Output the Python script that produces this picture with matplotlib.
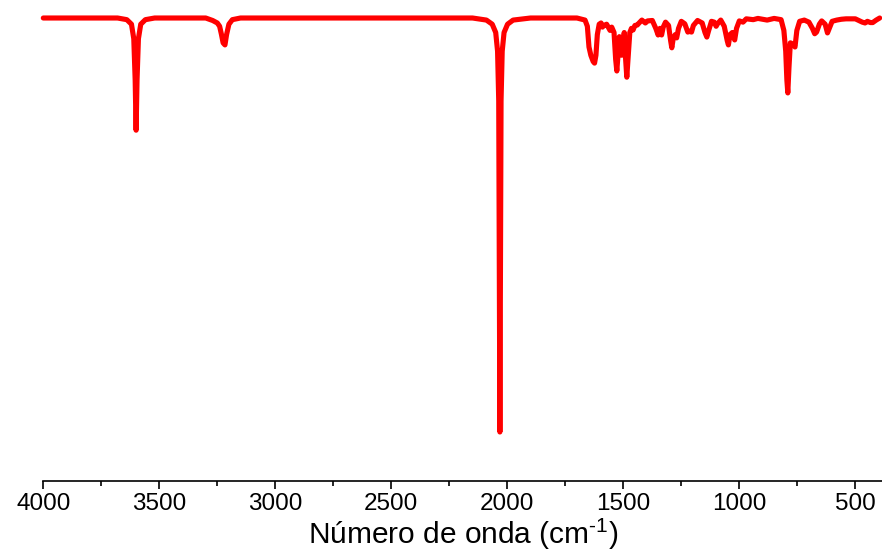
import matplotlib
matplotlib.use("Agg")
import matplotlib.pyplot as plt
from matplotlib.ticker import MultipleLocator

plt.rcParams['font.family'] = ['Liberation Sans', 'DejaVu Sans']
plt.rcParams['mathtext.fontset'] = 'custom'
plt.rcParams['mathtext.rm'] = 'Liberation Sans'
plt.rcParams['mathtext.it'] = 'Liberation Sans'

# Wavenumber (cm-1) and transmittance (%) points
wavenumber = [
    4000, 3680, 3640, 3620, 3610, 3604, 3600, 3596, 3590, 3580, 3560, 3520,
    3300, 3270, 3250, 3240, 3232, 3225, 3217, 3210, 3200, 3185, 3150,
    2150, 2090, 2065, 2050, 2042, 2037, 2032, 2027, 2022, 2014, 1999, 1975, 1900,
    1700, 1665, 1655, 1648, 1640, 1630, 1624, 1618, 1612, 1604, 1596, 1590, 1584,
    1572, 1562, 1557, 1550, 1540, 1533, 1528, 1523, 1517, 1511, 1507, 1502, 1496,
    1490, 1485, 1480, 1472, 1465, 1458, 1450, 1440, 1432, 1420, 1405, 1395, 1375,
    1360, 1350, 1342, 1335, 1328, 1318, 1305, 1296, 1291, 1285, 1276, 1270, 1262,
    1250, 1235, 1222, 1215, 1206, 1198, 1180, 1160, 1148, 1140, 1132, 1120, 1108,
    1100, 1094, 1080, 1065, 1052, 1047, 1040, 1030, 1020, 1012, 1000, 984, 970,
    940, 920, 880, 850, 820, 808, 800, 795, 791, 786, 780, 772, 765, 760, 752,
    740, 720, 700, 685, 675, 667, 655, 645, 630, 620, 612, 600, 580, 560, 540,
    500, 470, 458, 448, 435, 425, 410, 395,
]
transmittance = [
    100, 100, 99.6, 98.5, 95, 85, 72.9, 85, 95, 98.5, 99.6, 100,
    100, 99.4, 98.8, 98, 96, 94, 93.5, 96, 98.5, 99.6, 100,
    100, 99.5, 98.5, 96.5, 92, 80, 0, 80, 92, 96.5, 98.5, 99.5, 100,
    100, 99.5, 98, 93, 91, 89.5, 89.1, 91, 96, 98.5, 98.8, 97.8, 98.2,
    98.5, 97.5, 97, 97.8, 96.5, 90, 87.2, 91, 95.5, 93, 91, 93.5, 96.5,
    90, 85.7, 90, 96.5, 97.5, 97.1, 98.2, 98.3, 98.8, 99.5, 98.8, 99.3, 99.4,
    97.5, 95.9, 97.5, 95.9, 97.8, 99.0, 98.2, 94.5, 92.8, 95, 96, 95.2, 97.5,
    99.2, 98.6, 96.6, 96.8, 96.6, 98.2, 99.4, 98.8, 96.5, 95.4, 97, 99.2, 99,
    98, 98.6, 99.5, 98, 94.5, 93.5, 96, 96.5, 94.7, 97.5, 99.3, 99, 99.8,
    99.6, 99.9, 99.5, 99.9, 99.6, 97, 92, 85, 81.9, 88, 94, 93.8, 93.5, 93, 97,
    99.2, 99.5, 99, 97.5, 96.2, 96.6, 98.5, 99.3, 98.5, 96.4, 97.5, 99.2, 99.5, 99.7, 99.8,
    99.8, 99, 98.8, 99.2, 98.9, 98.9, 99.5, 100,
]

x_ticks = [4000, 3500, 3000, 2500, 2000, 1500, 1000, 500]

fig = plt.figure(figsize=(8.82, 5.5), dpi=100)
ax = fig.add_axes([43.3 / 882, (550 - 481) / 550, 1 - 43.3 / 882, 481 / 550])
ax.plot(wavenumber, transmittance, color='#ff0000', lw=3.7,
        solid_joinstyle='round', solid_capstyle='round', clip_on=False)

ax.set_xlim(4000, 385)
ax.set_ylim(-11.84, 104.35)
for s in ['top', 'left', 'right']:
    ax.spines[s].set_visible(False)
ax.spines['bottom'].set_linewidth(1.2)
ax.set_yticks([])
ax.set_xticks(x_ticks)
ax.set_xticklabels([str(t) for t in x_ticks])
ax.xaxis.set_minor_locator(MultipleLocator(250))
ax.tick_params(axis='x', which='major', direction='out', length=6, width=1.2,
               labelsize=17.5, pad=2.5)
ax.tick_params(axis='x', which='minor', direction='out', length=3.5, width=1.2)

fig.text(463 / 882, 1 - 543.5 / 550, r'Número de onda (cm$^{\text{-1}}$)',
         fontsize=21.5, ha='center', va='baseline')

fig.savefig('out.png', dpi=100)
